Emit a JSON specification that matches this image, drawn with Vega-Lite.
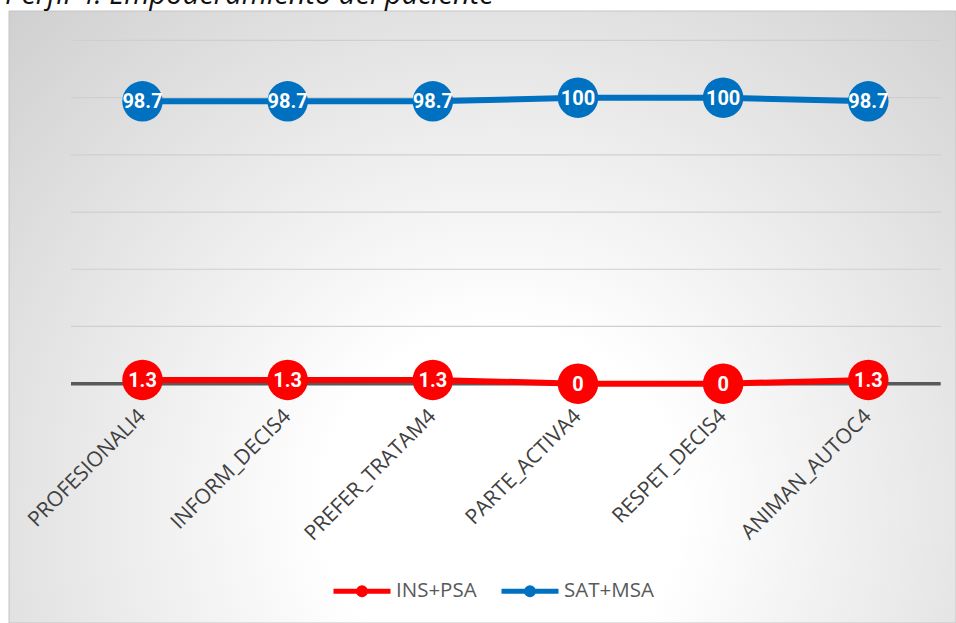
{
  "$schema": "https://vega.github.io/schema/vega-lite/v6.json",
  "width": 947,
  "height": 612,
  "autosize": {"type": "none"},
  "padding": {"left": 9, "top": 11, "right": 0, "bottom": 0},
  "background": "white",
  "title": {
    "text": "Perfil 4. Empoderamiento del paciente",
    "anchor": "start",
    "frame": "group",
    "font": "Open Sans",
    "fontStyle": "italic",
    "fontWeight": "normal",
    "fontSize": 29,
    "color": "#111111",
    "baseline": "alphabetic",
    "offset": 0,
    "dx": -4,
    "dy": 22
  },
  "config": {"view": {"stroke": null}, "font": "Open Sans"},
  "data": {
    "values": [
      {"item": "PROFESIONALI4", "serie": "INS+PSA", "valor": 1.3},
      {"item": "INFORM_DECIS4", "serie": "INS+PSA", "valor": 1.3},
      {"item": "PREFER_TRATAM4", "serie": "INS+PSA", "valor": 1.3},
      {"item": "PARTE_ACTIVA4", "serie": "INS+PSA", "valor": 0},
      {"item": "RESPET_DECIS4", "serie": "INS+PSA", "valor": 0},
      {"item": "ANIMAN_AUTOC4", "serie": "INS+PSA", "valor": 1.3},
      {"item": "PROFESIONALI4", "serie": "SAT+MSA", "valor": 98.7},
      {"item": "INFORM_DECIS4", "serie": "SAT+MSA", "valor": 98.7},
      {"item": "PREFER_TRATAM4", "serie": "SAT+MSA", "valor": 98.7},
      {"item": "PARTE_ACTIVA4", "serie": "SAT+MSA", "valor": 100},
      {"item": "RESPET_DECIS4", "serie": "SAT+MSA", "valor": 100},
      {"item": "ANIMAN_AUTOC4", "serie": "SAT+MSA", "valor": 98.7}
    ]
  },
  "layer": [
    {
      "data": {"values": [{}]},
      "mark": {
        "type": "rect",
        "stroke": "#c4c4c4",
        "strokeWidth": 1,
        "fill": {
          "gradient": "radial",
          "x1": 0.52, "y1": 0.7, "r1": 0,
          "x2": 0.52, "y2": 0.7, "r2": 0.85,
          "stops": [
            {"offset": 0, "color": "#ffffff"},
            {"offset": 0.22, "color": "#ffffff"},
            {"offset": 1, "color": "#c6c6c6"}
          ]
        }
      },
      "encoding": {}
    },
    {
      "data": {"values": [{"g": 20}, {"g": 40}, {"g": 60}, {"g": 80}, {"g": 100}, {"g": 120}]},
      "mark": {"type": "rule", "color": "#cfcfcf", "strokeWidth": 1.2},
      "encoding": {
        "y": {"field": "g", "type": "quantitative", "scale": {"domain": [-83.7, 130.3], "nice": false, "zero": false}, "axis": null},
        "x": {"datum": 0, "type": "quantitative", "scale": {"domain": [-0.0713, 1.0176], "nice": false, "zero": false}, "axis": null},
        "x2": {"datum": 1}
      }
    },
    {
      "data": {"values": [{"g": 0}]},
      "mark": {"type": "rule", "color": "#595959", "strokeWidth": 3.5},
      "encoding": {
        "y": {"field": "g", "type": "quantitative", "scale": {"domain": [-83.7, 130.3], "nice": false, "zero": false}, "axis": null},
        "x": {"datum": 0, "type": "quantitative", "scale": {"domain": [-0.0713, 1.0176], "nice": false, "zero": false}, "axis": null},
        "x2": {"datum": 1}
      }
    },
    {
      "encoding": {
        "x": {"field": "item", "type": "nominal", "sort": null, "scale": {"type": "point", "padding": 0.762, "align": 0.6035}, "axis": null},
        "y": {"field": "valor", "type": "quantitative", "scale": {"domain": [-83.7, 130.3], "nice": false, "zero": false}, "axis": null}
      },
      "layer": [
        {
          "mark": {"type": "line", "strokeWidth": 6},
          "encoding": {
            "color": {
              "field": "serie", "type": "nominal",
              "scale": {"domain": ["INS+PSA", "SAT+MSA"], "range": ["#ff0000", "#0070c0"]},
              "legend": {
                "title": null, "orient": "none", "legendX": 322, "legendY": 549, "direction": "horizontal",
                "symbolType": "M-1,0H1M-0.12,0a0.12,0.12 0 1,0 0.24,0a0.12,0.12 0 1,0 -0.24,0",
                "symbolSize": 3249, "symbolStrokeWidth": 5, "labelFont": "Open Sans", "labelFontSize": 20.5,
                "labelColor": "#595959", "labelOffset": 3, "columnPadding": 14, "padding": 0,
                "encode": {"symbols": {"update": {"fill": {"scale": "color", "field": "value"}, "stroke": {"scale": "color", "field": "value"}, "size": {"value": 3249}, "opacity": {"value": 1}}}}
              }
            }
          }
        },
        {
          "mark": {"type": "circle", "size": 1640, "opacity": 1},
          "encoding": {
            "color": {
              "field": "serie", "type": "nominal",
              "scale": {"domain": ["INS+PSA", "SAT+MSA"], "range": ["#ff0000", "#0070c0"]},
              "legend": {
                "title": null, "orient": "none", "legendX": 322, "legendY": 549, "direction": "horizontal",
                "symbolType": "M-1,0H1M-0.12,0a0.12,0.12 0 1,0 0.24,0a0.12,0.12 0 1,0 -0.24,0",
                "symbolSize": 3249, "symbolStrokeWidth": 5, "labelFont": "Open Sans", "labelFontSize": 20.5,
                "labelColor": "#595959", "labelOffset": 3, "columnPadding": 14, "padding": 0,
                "encode": {"symbols": {"update": {"fill": {"scale": "color", "field": "value"}, "stroke": {"scale": "color", "field": "value"}, "size": {"value": 3249}, "opacity": {"value": 1}}}}
              }
            }
          }
        },
        {
          "mark": {"type": "text", "color": "white", "fontWeight": "bold", "fontSize": 20, "font": "Roboto", "align": "center", "baseline": "middle", "dy": 1},
          "encoding": {"text": {"field": "valor", "type": "nominal"}}
        },
        {
          "transform": [{"filter": "datum.serie === 'INS+PSA'"}],
          "mark": {"type": "text", "color": "#404040", "fontSize": 21, "font": "Open Sans", "angle": 315, "align": "right", "baseline": "middle", "dx": -21, "dy": 21},
          "encoding": {
            "text": {"field": "item", "type": "nominal"},
            "y": {"datum": 0, "type": "quantitative", "scale": {"domain": [-83.7, 130.3], "nice": false, "zero": false}, "axis": null}
          }
        }
      ]
    }
  ],
  "resolve": {"scale": {"x": "independent"}}
}
